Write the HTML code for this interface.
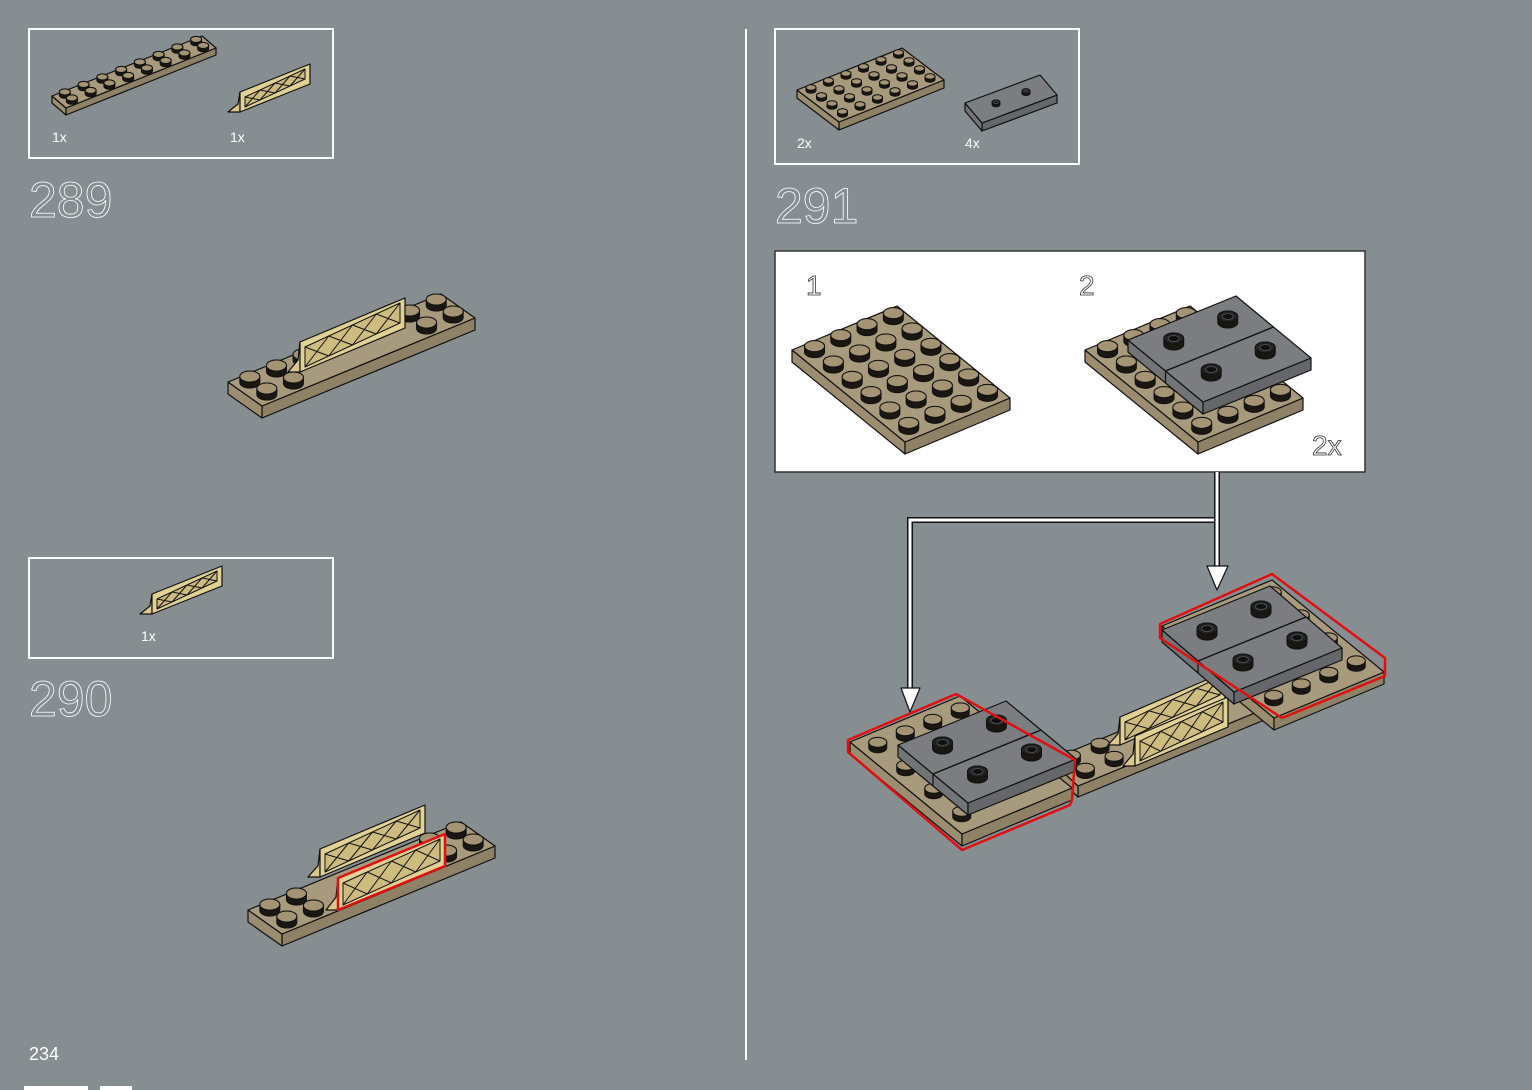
<!DOCTYPE html>
<html><head><meta charset="utf-8">
<style>
html,body{margin:0;padding:0;background:#878e92;}
body{width:1532px;height:1090px;overflow:hidden;position:relative;font-family:"Liberation Sans",sans-serif;}
svg{position:absolute;left:0;top:0;}
</style></head>
<body>
<svg id="s" width="1532" height="1090" xmlns="http://www.w3.org/2000/svg">
<rect width="1532" height="1090" fill="#878e92"/>
<line x1="746" y1="29" x2="746" y2="1060" stroke="#fff" stroke-width="2"/>
<rect x="24" y="1086" width="64" height="4" fill="#fff"/>
<rect x="100" y="1086" width="32" height="4" fill="#fff"/>
<rect x="29" y="29" width="304" height="129" fill="none" stroke="#fff" stroke-width="2"/>
<rect x="29" y="558" width="304" height="100" fill="none" stroke="#fff" stroke-width="2"/>
<rect x="775" y="29" width="304" height="135" fill="none" stroke="#fff" stroke-width="2"/>
<rect x="775" y="251" width="590" height="221" fill="#fff" stroke="#333" stroke-width="1.5"/>
<g font-family="Liberation Sans, sans-serif" fill="#fff" font-size="14">
<text x="52" y="142">1x</text><text x="230" y="142">1x</text>
<text x="141" y="641">1x</text>
<text x="797" y="148">2x</text><text x="965" y="148">4x</text>
<text x="29" y="1060" font-size="18">234</text>
</g>
<g font-family="Liberation Sans, sans-serif" font-size="50" fill="none" stroke="#fff" stroke-width="0.8">
<text x="29" y="217">289</text>
<text x="29" y="716">290</text>
<text x="775" y="223">291</text>
</g>
<g font-family="Liberation Sans, sans-serif" font-size="28" fill="none" stroke="#333" stroke-width="0.8">
<text x="806" y="295">1</text><text x="1079" y="295">2</text>
<text x="1312" y="455">2x</text>
</g>
<g id="g"></g>
</svg>
<script>
var g=document.getElementById('g');
var NS='http://www.w3.org/2000/svg';
function el(t,a){var e=document.createElementNS(NS,t);for(var k in a)e.setAttribute(k,a[k]);g.appendChild(e);return e;}
function pts(a){return a.map(function(p){return p[0].toFixed(1)+','+p[1].toFixed(1)}).join(' ');}
function poly(a,fill,stroke,sw){return el('polygon',{points:pts(a),fill:fill,stroke:stroke||'#111','stroke-width':sw||1.2,'stroke-linejoin':'round'});}
function add(p,q,k){k=k==null?1:k;return [p[0]+q[0]*k,p[1]+q[1]*k];}
function stud(c,r,col,dark){
  var h=r*0.6, ry=r*0.55;
  var d='M'+(c[0]-r)+','+c[1]+' L'+(c[0]-r)+','+(c[1]-h)+' A'+r+','+ry+' 0 0 1 '+(c[0]+r)+','+(c[1]-h)+' L'+(c[0]+r)+','+c[1]+' A'+r+','+ry+' 0 0 1 '+(c[0]-r)+','+c[1]+'Z';
  el('path',{d:d,fill:'#1a1713',stroke:'#111','stroke-width':1});
  el('ellipse',{cx:c[0],cy:c[1]-h,rx:r,ry:ry,fill:col,stroke:'#111','stroke-width':1});
  if(dark) el('ellipse',{cx:c[0],cy:c[1]-h,rx:r*0.55,ry:ry*0.55,fill:'#111',stroke:'#555','stroke-width':0.8});
}
function box(A,L,S,th,top,s1,s2){
  var B=add(A,L),C=add(B,S),D=add(A,S),dn=[0,th];
  var corners=[A,B,C,D];
  var cy=(A[1]+B[1]+C[1]+D[1])/4;
  var faces=[];
  for(var i=0;i<4;i++){var p=corners[i],q=corners[(i+1)%4];
    var my=(p[1]+q[1])/2; if(my>=cy-0.01) faces.push([p,q]);}
  faces.forEach(function(f,i){
    var dx=f[1][0]-f[0][0];
    poly([f[0],f[1],add(f[1],dn),add(f[0],dn)],(dx*(f[1][1]-f[0][1])>0)?s2:s1);
  });
  poly(corners,top);
  return corners;
}
function plate(A,L,S,nL,nS,th,col,r,mask){
  box(A,L,S,th,col,'#8f8166','#9c8d70');
  if(!r) return;
  var list=[];
  for(var i=0;i<nL;i++)for(var j=0;j<nS;j++){
    if(mask&&!mask(i,j))continue;
    list.push(add(add(A,L,(i+.5)/nL),S,(j+.5)/nS));}
  list.sort(function(a,b){return a[1]-b[1]});
  list.forEach(function(p){stud(p,r,'#a49474');});
}
function tile(A,L,S,th,r,studsPos,noMid){
  var c=box(A,L,S,th,'#7b7d80','#65676a','#727477');
  if(!noMid){
    var m1=add(A,L,.5),m2=add(c[3],L,.5);
    el('line',{x1:m1[0],y1:m1[1],x2:m2[0],y2:m2[1],stroke:'#111','stroke-width':1.4});
    var lo=m1[1]>m2[1]?m1:m2;
    el('line',{x1:lo[0],y1:lo[1],x2:lo[0],y2:lo[1]+th,stroke:'#111','stroke-width':1.2});
  }
  var list=studsPos.map(function(f){return add(add(A,L,f[0]),S,f[1]);});
  list.sort(function(a,b){return a[1]-b[1]});
  list.forEach(function(p){stud(p,r,'#222',true);});
}
function fence(P0,P1,h,stroke){
  var up=[0,-h];
  poly([add(P0,[-12,0]),P0,add(P0,up),add(P0,[-2,-h*0.4])],'#d9c78d');
  poly([P0,P1,add(P1,up),add(P0,up)],'#e2d195',stroke||'#111',stroke?2.5:1.2);
  poly([add(P0,[5,-5]),add(P1,[-5,-5]),add(P1,[-5,-h+5]),add(P0,[5,-h+5])],'#cdbb80','#111',1);
  var n=4;
  for(var k=0;k<n;k++){
    var a=[P0[0]+5+(P1[0]-P0[0]-10)*k/n,P0[1]-5+(P1[1]-P0[1])*k/n];
    var b=[P0[0]+5+(P1[0]-P0[0]-10)*(k+1)/n,P0[1]-5+(P1[1]-P0[1])*(k+1)/n];
    el('line',{x1:a[0],y1:a[1],x2:b[0],y2:b[1]-(h-10),stroke:'#111','stroke-width':1});
    el('line',{x1:a[0],y1:a[1]-(h-10),x2:b[0],y2:b[1],stroke:'#111','stroke-width':1});
  }
}
var TAN='#a89a7c';
// callout 289
plate([52,96],[150,-60],[14,12],8,2,7,TAN,5.5);
fence([240,112],[310,84],20);
// 289 main
plate([228,382],[213,-88],[34,24],8,2,12,TAN,10,function(i,j){return !(j==1&&i>=2&&i<=5);});
fence([300,372],[405,328],30);
// callout 290
fence([152,614],[222,586],20);
// 290 main
plate([248,910],[213,-88],[34,24],8,2,12,TAN,10,function(i,j){return i<2||i>5;});
fence([320,877],[425,833],28);
fence([338,910],[445,866],32,'#e01010');
// callout 291
plate([797,90],[105,-42],[42,32],6,4,8,TAN,5);
tile([965,103],[75,-28],[17,20],8,4,[[.3,.5],[.7,.5]],true);
// box step1
plate([792,350],[113,92],[105,-44],6,4,12,TAN,10);
// box step2
plate([1085,350],[113,92],[105,-44],6,4,12,TAN,10,function(i,j){return i==0||j==0||i==5;});
tile([1128,340],[75,62],[108,-44],12,10,[[.25,.25],[.25,.75],[.75,.25],[.75,.75]]);
// main 291 middle strip
plate([1050,760],[230,-95],[28,26],8,2,11,TAN,9,function(i,j){return i<2||i>5;});
fence([1120,745],[1225,700],28);
fence([1135,766],[1228,727],30);
// left block
plate([850,742],[112,92],[110,-46],4,4,12,TAN,9,function(i,j){return i==0||j==0;});
tile([898,745],[70,58],[108,-44],12,10,[[.25,.25],[.25,.75],[.75,.25],[.75,.75]]);
poly([[848,740],[956,694],[1075,760],[1072,800],[1070,805],[962,850],[848,752]],'none','#e01010',2.5);
// right block
plate([1162,626],[112,92],[110,-46],4,4,12,TAN,9,function(i,j){return i==3||j==3||i==0;});
tile([1162,630],[72,62],[108,-44],12,10,[[.25,.25],[.25,.75],[.75,.25],[.75,.75]]);
poly([[1160,624],[1272,574],[1385,658],[1385,676],[1282,718],[1160,638]],'none','#e01010',2.5);
// arrows
function arrowLine(d){el('path',{d:d,fill:'none',stroke:'#111','stroke-width':6});el('path',{d:d,fill:'none',stroke:'#fff','stroke-width':3});}
arrowLine('M1217,472 L1217,520 L910,520 L910,690');
arrowLine('M1217,518 L1217,570');
poly([[901,688],[920,688],[910,712]],'#fff','#111',1.2);
poly([[1207,566],[1228,566],[1217,590]],'#fff','#111',1.2);
</script>
</body></html>
